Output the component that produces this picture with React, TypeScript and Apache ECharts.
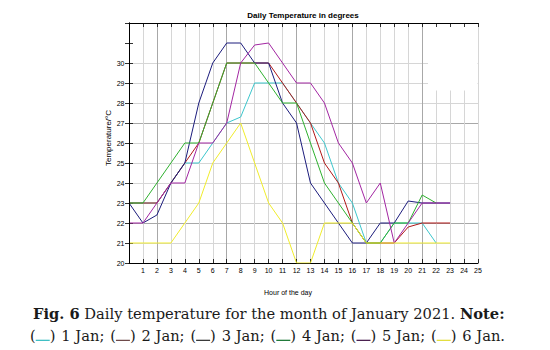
import React, { useEffect, useRef } from 'react';
import * as echarts from 'echarts';

// ---- data ----
const hours = [0, 1, 2, 3, 4, 5, 6, 7, 8, 9, 10, 11, 12, 13, 14, 15, 16, 17, 18, 19, 20, 21, 22, 23];
const jan1 = [23, 23, 23, 24, 25, 25, 26, 27, 27.3, 29, 29, 29, 28, 27, 26, 24, 23, 21, 21, 22, 22, 22, 21, null];
const jan2 = [23, 23, 23, 24, 25, 26, 28, 30, 30, 30, 30, 29, 28, 27, 25, 24, 22, 21, 21, 21, 21.8, 22, 22, 22];
const jan3 = [23, 22, 22.4, 24, 25, 28, 30, 31, 31, 30, 30, 28, 27, 24, 23, 22, 21, 21, 22, 22, 23.1, 23, 23, 23];
const jan4 = [23, 23, 24, 25, 26, 26, 28, 30, 30, 30, 29, 28, 28, 26, 24, 23, 22, 21, 21, 22, 22, 23.4, 23, null];
const jan5 = [22, 22, 23, 24, 24, 26, 26, 27, 30, 30.9, 31, 30, 29, 29, 28, 26, 25, 23, 24, 21, 22, 23, 23, 23];
const jan6 = [21, 21, 21, 21, 22, 23, 25, 26, 27, 25, 23, 22, 20, 20, 22, 22, 22, 21, 21, 21, 21, 21, 21, 21];
const seriesNames = ['1 Jan', '2 Jan', '3 Jan', '4 Jan', '5 Jan', '6 Jan'];
const seriesValues = [jan1, jan2, jan3, jan4, jan5, jan6];
const lineColors = ['#3cc6cc', '#b01818', '#1c1c7c', '#2fb02f', '#a226a2', '#f0ec2c'];
const captionColors = ['#3fbfc4', '#6e4a4a', '#3a3a3a', '#217a3a', '#4b2150', '#e3de40'];
// draw order (later on top)
const drawOrder = [0, 1, 2, 3, 4, 5];
const yLabelValues = [20, 21, 22, 23, 24, 25, 26, 27, 28, 29, 30];
const xLabelValues = [1, 2, 3, 4, 5, 6, 7, 8, 9, 10, 11, 12, 13, 14, 15, 16, 17, 18, 19, 20, 21, 22, 23, 24, 25];

const titleText = 'Daily Temperature in degrees';
const xName = 'Hour of the day';
const yName = 'Temperature/°C';
const captionLine1 = [
  { t: 'Fig. 6', b: true },
  { t: ' Daily temperature for the month of January 2021. ', b: false },
  { t: 'Note:', b: true },
];

const SANS = '"Liberation Sans", Arial, sans-serif';
const SERIF = '"DejaVu Serif", serif';

function measure(text: string, size: number, bold: boolean): number {
  const c = document.createElement('canvas').getContext('2d')!;
  c.font = `${bold ? 'bold ' : ''}${size}px "DejaVu Serif"`;
  return c.measureText(text).width;
}

export default function App() {
  const ref = useRef<HTMLDivElement>(null);
  useEffect(() => {
    const chart = echarts.init(ref.current!, null, { renderer: 'svg' });

    const light = '#d6d6d6';
    const mid = '#a8a8a8';
    const xSplitColors: string[] = [];
    for (let i = 0; i <= 25; i++) {
      xSplitColors.push([2, 7, 12, 16, 21].indexOf(i) >= 0 ? mid : light);
    }
    const ySplitColors: string[] = [];
    for (let v = 20; v <= 32; v++) {
      ySplitColors.push(v > 30 ? 'rgba(0,0,0,0)' : v === 22 || v === 27 ? mid : light);
    }

    // caption layout
    const capLeft = 33;
    const targetW = 472;
    let w14 = 0;
    captionLine1.forEach((p) => (w14 += measure(p.t, 14, p.b)));
    const fs = w14 > 0 ? Math.max(12, Math.min(16, (14 * targetW) / w14)) : 14;
    const base1 = 318.5;
    const base2 = 340.5;
    const midOff = fs * 0.346;
    const graphics: any[] = [];
    // white patch (removed legend area)
    graphics.push({
      type: 'rect',
      z: 1,
      shape: { x: 428, y: 23.5, width: 49.5, height: 67 },
      style: { fill: '#ffffff' },
    });
    graphics.push({
      type: 'text',
      x: 303,
      y: 15.5,
      style: {
        text: titleText,
        fontSize: 8,
        fontWeight: 'bold',
        fontFamily: SANS,
        fill: '#000000',
        align: 'center',
        verticalAlign: 'middle',
      },
    });
    graphics.push({
      type: 'text',
      x: 288,
      y: 292,
      style: { text: xName, fontSize: 7, fontFamily: SANS, fill: '#000000', align: 'center', verticalAlign: 'middle' },
    });
    graphics.push({
      type: 'text',
      x: 108,
      y: 138,
      rotation: Math.PI / 2,
      style: { text: yName, fontSize: 8, fontFamily: SANS, fill: '#000000', align: 'center', verticalAlign: 'middle' },
    });
    let cx = capLeft;
    captionLine1.forEach((p) => {
      graphics.push({
        type: 'text',
        x: cx,
        y: base1 - midOff,
        style: {
          text: p.t,
          fontSize: fs,
          fontWeight: p.b ? 'bold' : 'normal',
          fontFamily: SERIF,
          fill: '#1a1a1a',
          align: 'left',
          verticalAlign: 'middle',
        },
      });
      cx += measure(p.t, fs, p.b);
    });
    // line 2 (justified to the same width as the reference)
    const lineW = 14;
    const line2Left = 30;
    const line2Target = 475;
    const pieces: { kind: 'text' | 'line'; t?: string; color?: string }[] = [];
    seriesNames.forEach((name, i) => {
      pieces.push({ kind: 'text', t: i === 0 ? '(' : ' (' });
      pieces.push({ kind: 'line', color: captionColors[i] });
      pieces.push({ kind: 'text', t: ') ' + name + (i === seriesNames.length - 1 ? '.' : ';') });
    });
    let natural = 0;
    pieces.forEach((p) => (natural += p.kind === 'line' ? lineW : measure(p.t!, fs, false)));
    const gaps = seriesNames.length * 2 - 1;
    const extra = Math.max(0, Math.min(30, line2Target - natural)) / gaps;
    cx = line2Left;
    pieces.forEach((p, k) => {
      if (p.kind === 'line') {
        graphics.push({
          type: 'rect',
          shape: { x: cx, y: base2 - 0.8, width: lineW, height: 1.3 },
          style: { fill: p.color },
        });
        cx += lineW;
      } else {
        const t = p.t!;
        // spread extra space at the leading spaces
        if (t.startsWith(' ')) cx += extra;
        graphics.push({
          type: 'text',
          x: cx,
          y: base2 - midOff,
          style: { text: t, fontSize: fs, fontFamily: SERIF, fill: '#1a1a1a', align: 'left', verticalAlign: 'middle' },
        });
        if (t.startsWith(')')) {
          // extra space after ')'
          const w1 = measure(') ', fs, false);
          graphics.pop();
          graphics.push({
            type: 'text',
            x: cx,
            y: base2 - midOff,
            style: { text: ')', fontSize: fs, fontFamily: SERIF, fill: '#1a1a1a', align: 'left', verticalAlign: 'middle' },
          });
          const rest = t.slice(2);
          graphics.push({
            type: 'text',
            x: cx + w1 + extra,
            y: base2 - midOff,
            style: { text: rest, fontSize: fs, fontFamily: SERIF, fill: '#1a1a1a', align: 'left', verticalAlign: 'middle' },
          });
          cx += w1 + extra + measure(rest, fs, false);
        } else {
          cx += measure(t, fs, false);
        }
      }
      void k;
    });

    const axisCommon = {
      type: 'value' as const,
      axisLine: { show: true, lineStyle: { color: '#000', width: 1 } },
      axisTick: { show: true, inside: true, length: 4, lineStyle: { color: '#000', width: 0.8 } },
    };

    const option: any = {
      animation: false,
      backgroundColor: '#fff',
      grid: { left: 129, right: 72, top: 23, bottom: 87, containLabel: false },
      xAxis: [
        {
          ...axisCommon,
          position: 'bottom',
          min: 0,
          max: 25,
          interval: 1,
          z: 0,
          axisLabel: {
            show: true,
            fontSize: 7,
            fontFamily: SANS,
            color: '#000',
            margin: 4,
            formatter: (v: number) => (xLabelValues.indexOf(v) >= 0 ? String(v) : ''),
          },
          splitLine: { show: true, lineStyle: { color: xSplitColors, width: 1 } },
        },
        {
          ...axisCommon,
          position: 'top',
          min: 0,
          max: 25,
          interval: 1,
          z: 5,
          axisLabel: { show: false },
          splitLine: { show: false },
        },
      ],
      yAxis: [
        {
          ...axisCommon,
          position: 'left',
          min: 20,
          max: 32,
          interval: 1,
          z: 0,
          axisLabel: {
            show: true,
            fontSize: 7,
            fontFamily: SANS,
            color: '#000',
            margin: 4.5,
            formatter: (v: number) => (yLabelValues.indexOf(v) >= 0 ? String(v) : ''),
          },
          splitLine: { show: true, lineStyle: { color: ySplitColors, width: 1 } },
        },
        {
          ...axisCommon,
          position: 'right',
          min: 20,
          max: 32,
          interval: 1,
          z: 5,
          axisLabel: { show: false },
          splitLine: { show: false },
        },
      ],
      series: drawOrder.map((idx) => ({
        type: 'line',
        name: seriesNames[idx],
        xAxisIndex: 0,
        yAxisIndex: 0,
        showSymbol: false,
        symbol: 'none',
        z: 2,
        lineStyle: { color: lineColors[idx], width: 1 },
        itemStyle: { color: lineColors[idx] },
        data: hours.map((h, i) => [h, seriesValues[idx][i]]),
      })),
      graphic: graphics,
    };
    chart.setOption(option);
    return () => chart.dispose();
  }, []);
  return (
    <div
      ref={ref}
      style={{ position: 'fixed', left: 0, top: 0, width: 550, height: 350, background: '#fff' }}
    />
  );
}
